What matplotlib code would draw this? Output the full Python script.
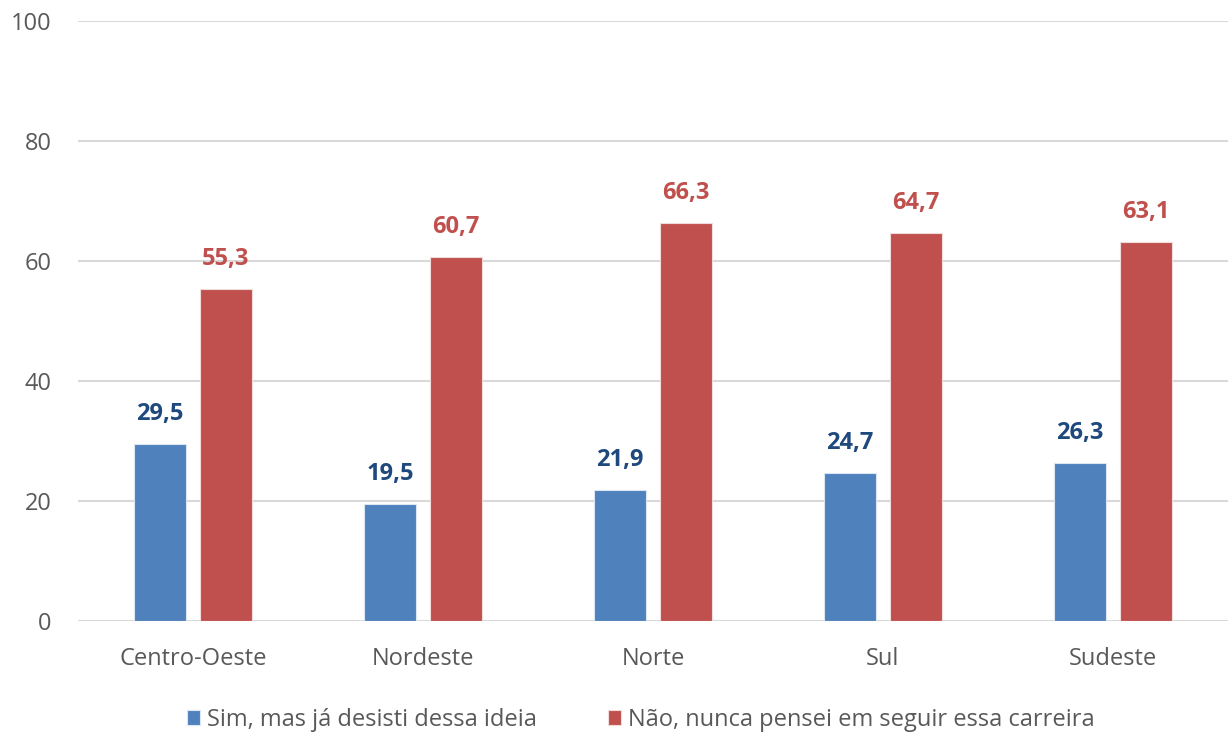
import matplotlib.pyplot as plt
import numpy as np

plt.rcParams['font.family'] = ['Open Sans', 'DejaVu Sans']

regions = ['Centro-Oeste', 'Nordeste', 'Norte', 'Sul', 'Sudeste']
sim_desisti = [29.5, 19.5, 21.9, 24.7, 26.3]
nao_pensei = [55.3, 60.7, 66.3, 64.7, 63.1]
series_names = ['Sim, mas já desisti dessa ideia',
                'Não, nunca pensei em seguir essa carreira']
yticks = [0, 20, 40, 60, 80, 100]

blue, red = '#4F81BD', '#C0504D'
blue_txt = '#1F497D'
grey = '#595959'

fig = plt.figure(figsize=(12.28, 7.33), dpi=100)
ax = fig.add_axes([0.0635, 0.1528, 0.9365, 0.8186])

x = np.arange(len(regions))
w = 0.222
off = 0.1435

b1 = ax.bar(x - off, sim_desisti, w, color=blue, edgecolor='#DCE6F2',
            linewidth=0.8, label=series_names[0], zorder=3)
b2 = ax.bar(x + off, nao_pensei, w, color=red, edgecolor='#F2DCDB',
            linewidth=0.8, label=series_names[1], zorder=3)

# value labels above each bar, decimal comma
for xi, v in zip(x, sim_desisti):
    ax.annotate(f"{v:.1f}".replace('.', ','), (xi - off, v),
                xytext=(0, 13), textcoords='offset points',
                ha='center', va='bottom', fontsize=17, fontweight='bold',
                color=blue_txt)
for xi, v in zip(x, nao_pensei):
    ax.annotate(f"{v:.1f}".replace('.', ','), (xi + off, v),
                xytext=(0, 13), textcoords='offset points',
                ha='center', va='bottom', fontsize=17, fontweight='bold',
                color=red)

ax.set_xlim(-0.5, len(regions) - 0.5)
ax.set_ylim(0, 100)
ax.set_yticks(yticks)
ax.set_xticks(x)
ax.set_xticklabels(regions)
ax.tick_params(axis='both', length=0, labelsize=17, labelcolor=grey)
ax.tick_params(axis='x', pad=19)
ax.tick_params(axis='y', pad=19)

ax.grid(axis='y', color='#D9D9D9', linewidth=1.5, zorder=0)
for s in ax.spines.values():
    s.set_visible(False)

leg = fig.legend(handles=[b1, b2], loc='center', bbox_to_anchor=(0.522, 0.018),
                 ncol=2, frameon=False, fontsize=17, handlelength=0.55,
                 handleheight=0.55, handletextpad=0.3, columnspacing=3.0)
for t in leg.get_texts():
    t.set_color(grey)

fig.savefig('out.png', dpi=100)
